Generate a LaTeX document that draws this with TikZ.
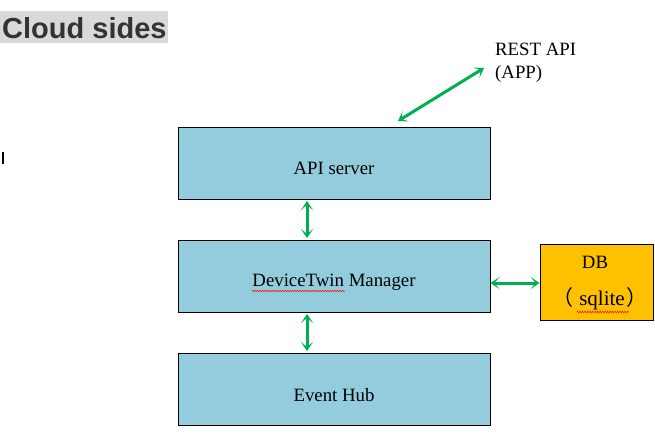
\documentclass[tikz,border=0pt]{standalone}
\usepackage{fontspec}
\setmainfont{Liberation Serif}
\newfontfamily\arialf{Liberation Sans}
\newfontfamily\cjk{Noto Sans CJK SC}
\usetikzlibrary{arrows.meta,decorations.pathmorphing}
\definecolor{boxblue}{HTML}{93CDDD}
\definecolor{dbgold}{HTML}{FFC000}
\definecolor{arrgreen}{HTML}{00B050}
\definecolor{titlegray}{HTML}{D9D9D9}
\tikzset{
  box/.style={draw=black, line width=0.8pt, fill=boxblue, minimum width=312pt, minimum height=72pt, inner sep=0pt},
  dbbox/.style={draw=black, line width=0.8pt, fill=dbgold, minimum width=113pt, minimum height=76pt, inner sep=0pt},
  link/.style={draw=arrgreen, line width=3pt, {Stealth[length=9pt,width=12pt,inset=5pt]}-{Stealth[length=9pt,width=12pt,inset=5pt]}},
  txt/.style={font=\fontsize{18.8}{21}\selectfont, inner sep=0pt},
  lbl/.style={txt, anchor=west},
  spell/.style={draw=red, line width=0.5pt, decorate, decoration={zigzag, amplitude=0.8pt, segment length=2.5pt}}
}
\begin{document}
\begin{tikzpicture}[x=1pt,y=-1pt]
\useasboundingbox (0,0) rectangle (655,434);
% title
\node[fill=titlegray, anchor=north west, minimum width=168pt, minimum height=32pt, inner sep=0pt] (titlebg) at (0,11) {};
\node[font=\arialf\bfseries\fontsize{29}{31}\selectfont, text=black!80, inner sep=0pt, anchor=west] (title) at (2,28) {Cloud sides};
% cursor
\coordinate (c1) at (3,152);
\coordinate (c2) at (3,164);
\draw[line width=1.6pt] (c1) -- (c2);
% boxes
\node[box] (api) at (334,163) {};
\node[box] (dtm) at (334,276) {};
\node[box] (hub) at (334,389) {};
\node[txt] (apit) at (334,168) {API server};
\node[txt] (dtmt) at (334,282) {DeviceTwin Manager};
\node[txt] (hubt) at (334,395) {Event Hub};
\node[dbbox] (db) at (596.5,282) {};
\node[txt] (dbt) at (595,262) {DB};
\node[txt, font=\fontsize{21}{23}\selectfont] (sql) at (600,299) {{\cjk （}\hspace{6pt}sqlite\hspace{2pt}{\cjk ）}};
% REST API label
\node[lbl] (rest) at (495,49) {REST API};
\node[lbl] (app) at (495,74) {(APP)};
\coordinate (restend) at (484,68);
\coordinate (apiend) at (398,121);
% arrows
\draw[link] (apiend) -- (restend);
\draw[link] (307,201) -- (307,238);
\draw[link] (307,314) -- (307,351);
\draw[link] (dtm.east |- 0,283) -- (db.west |- 0,283);
% spelling underlines
\coordinate (s1a) at (252,291);
\coordinate (s1b) at (345,291);
\coordinate (s2a) at (577,312);
\coordinate (s2b) at (629,312);
\draw[spell] (s1a) -- (s1b);
\draw[spell] (s2a) -- (s2b);
\end{tikzpicture}
\end{document}
